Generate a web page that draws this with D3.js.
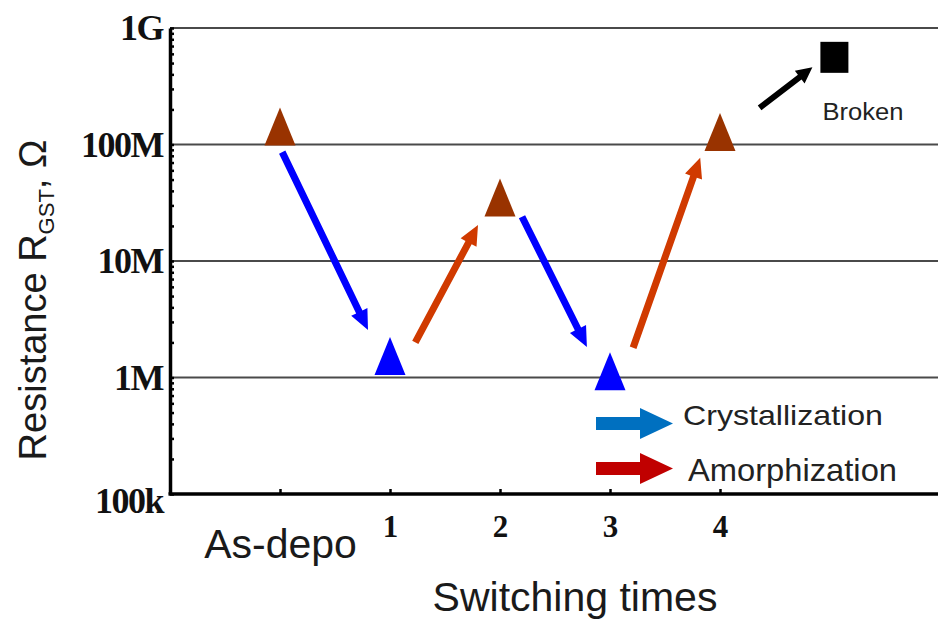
<!DOCTYPE html>
<html><head><meta charset="utf-8">
<script src="https://cdn.jsdelivr.net/npm/d3@7"></script>
<style>body{margin:0;background:#fff}svg{display:block}</style>
</head><body><svg id="c" width="938" height="621"></svg>
<script>
// ---- data ----
const categories = ["As-depo", "1", "2", "3", "4"];
const switchIndex = [0, 1, 2, 3, 4];
const resistance = [1.43e8, 1.53e6, 3.51e7, 1.13e6, 1.28e8];
const phase = ["amorphous", "crystalline", "amorphous", "crystalline", "amorphous"];
const brokenIndex = [5.04];
const brokenResistance = [5.6e8];
const brokenLabel = "Broken";
const yTickValues = [1e5, 1e6, 1e7, 1e8, 1e9];
const yTickLabels = ["100k", "1M", "10M", "100M", "1G"];
// transition arrows (index, resistance) start -> end
const arrowKind = ["cryst", "amorph", "cryst", "amorph", "broken"];
const arrowX0 = [0.02, 1.23, 2.2, 3.21, 4.36];
const arrowR0 = [8.6e7, 2.0e6, 2.4e7, 1.8e6, 2.06e8];
const arrowX1 = [0.8, 1.8, 2.79, 3.82, 4.84];
const arrowR1 = [2.56e6, 2.04e7, 1.83e6, 7.7e7, 4.6e8];
const legendLabels = ["Crystallization", "Amorphization"];
const xTitle = "Switching times";

// ---- setup ----
const svg = d3.select("#c");
const W = 938;
const x = d3.scaleLinear().domain([-1, 6]).range([170, 940]);
const y = d3.scaleLog().domain([1e5, 1e9]).range([494, 28]);
const markerColor = d3.scaleOrdinal().domain(["amorphous", "crystalline"]).range(["#993300", "#0000ff"]);
const arrowColor = d3.scaleOrdinal().domain(["cryst", "amorph", "broken"]).range(["#0000ff", "#d03a00", "#000000"]);

// grid lines
svg.append("g").selectAll("line").data(yTickValues.slice(1)).join("line")
  .attr("x1", x(-1)).attr("x2", W).attr("y1", d => y(d)).attr("y2", d => y(d))
  .attr("stroke", "#4a4a4a").attr("stroke-width", 2.2);

// minor ticks (inside)
const minor = [];
for (let e = 5; e < 9; e++) for (let k = 1; k < 10; k++) minor.push(k * Math.pow(10, e));
minor.push(1e9);
const yMinor = svg.append("g").attr("transform", `translate(${x(-1)},0)`)
  .call(d3.axisRight(y).tickValues(minor).tickSize(4).tickFormat(""));
yMinor.select(".domain").remove();
yMinor.selectAll(".tick line").attr("stroke", "#000").attr("stroke-width", 2.5);

// left axis labels
const yLab = svg.append("g").attr("transform", `translate(${x(-1)},0)`)
  .call(d3.axisLeft(y).tickValues(yTickValues).tickSize(0).tickPadding(7)
    .tickFormat((d, i) => yTickLabels[i]));
yLab.select(".domain").attr("stroke", "#000").attr("stroke-width", 3.5);
yLab.selectAll(".tick text").attr("font-family", "Liberation Serif, serif")
  .attr("font-weight", "bold").attr("font-size", 36).attr("fill", "#111")
  .attr("letter-spacing", -1.5);
yLab.selectAll(".tick").filter(d => d === 1e5).select("text").attr("dy", "0.5em");

// bottom axis
const xAx = svg.append("g").attr("transform", `translate(0,${y(1e5)})`)
  .call(d3.axisTop(x).tickValues(switchIndex).tickSize(5).tickFormat(""));
xAx.select(".domain").remove();
xAx.selectAll(".tick line").attr("stroke", "#000").attr("stroke-width", 2.5);
svg.append("line").attr("x1", x(-1) - 1.5).attr("x2", W).attr("y1", y(1e5)).attr("y2", y(1e5))
  .attr("stroke", "#000").attr("stroke-width", 3.5);

const xLab = svg.append("g").attr("transform", `translate(0,${y(1e5)})`)
  .call(d3.axisBottom(x).tickValues(switchIndex).tickSize(0).tickPadding(0)
    .tickFormat((d, i) => categories[i]));
xLab.select(".domain").remove();
xLab.selectAll(".tick text").attr("dy", null).attr("y", 43)
  .attr("font-family", "Liberation Serif, serif").attr("font-weight", "bold")
  .attr("font-size", 31).attr("fill", "#111");
xLab.selectAll(".tick").filter(d => d === 0).select("text")
  .attr("font-family", "Liberation Sans, Arial, sans-serif").attr("font-weight", "normal")
  .attr("font-size", 41).attr("y", 64).attr("fill", "#1a1a1a");

// titles
svg.append("text").attr("x", 575).attr("y", 611).attr("text-anchor", "middle")
  .attr("font-family", "Liberation Sans, Arial, sans-serif").attr("font-size", 41)
  .attr("fill", "#1a1a1a").text(xTitle);
const yt = svg.append("text").attr("transform", "translate(46,300) rotate(-90)")
  .attr("text-anchor", "middle").attr("font-family", "Liberation Sans, Arial, sans-serif")
  .attr("font-size", 38).attr("fill", "#1a1a1a");
yt.append("tspan").text("Resistance R");
yt.append("tspan").attr("font-size", 22).attr("dy", 8).text("GST");
yt.append("tspan").attr("dy", -8).text(", Ω");

// arrow helper
function arrowPath(x0, y0, x1, y1, shaftW, headL, headW) {
  const dx = x1 - x0, dy = y1 - y0, L = Math.hypot(dx, dy);
  const ux = dx / L, uy = dy / L, nx = -uy, ny = ux;
  const bx = x1 - ux * headL, by = y1 - uy * headL;
  const p = [
    [x0 + nx * shaftW / 2, y0 + ny * shaftW / 2],
    [bx + nx * shaftW / 2, by + ny * shaftW / 2],
    [bx + nx * headW / 2, by + ny * headW / 2],
    [x1, y1],
    [bx - nx * headW / 2, by - ny * headW / 2],
    [bx - nx * shaftW / 2, by - ny * shaftW / 2],
    [x0 - nx * shaftW / 2, y0 - ny * shaftW / 2]
  ];
  return "M" + p.map(q => q.join(",")).join("L") + "Z";
}

// transition arrows
svg.append("g").selectAll("path").data(arrowKind).join("path")
  .attr("d", (k, i) => arrowPath(x(arrowX0[i]), y(arrowR0[i]), x(arrowX1[i]), y(arrowR1[i]),
    k === "broken" ? 6 : 7, k === "broken" ? 16 : 20, k === "broken" ? 16 : 18))
  .attr("fill", k => arrowColor(k));

// markers (triangles)
const tri = (w, h) => `M0,${-h / 2}L${w / 2},${h / 2}L${-w / 2},${h / 2}Z`;
svg.append("g").selectAll("path").data(resistance).join("path")
  .attr("transform", (d, i) => `translate(${x(switchIndex[i])},${y(d)})`)
  .attr("d", tri(31, 38))
  .attr("fill", (d, i) => markerColor(phase[i]));

// broken square
svg.append("g").selectAll("rect").data(brokenResistance).join("rect")
  .attr("x", (d, i) => x(brokenIndex[i]) - 14).attr("y", d => y(d) - 15.5)
  .attr("width", 28).attr("height", 31).attr("fill", "#000");
svg.append("text").attr("x", x(brokenIndex[0]) - 12).attr("y", y(brokenResistance[0]) + 63)
  .attr("font-family", "Liberation Sans, Arial, sans-serif").attr("font-size", 23)
  .attr("textLength", 81).attr("lengthAdjust", "spacingAndGlyphs")
  .attr("fill", "#222").text(brokenLabel);

// legend
const legColors = ["#0070c0", "#c00000"];
const legY = [423.5, 468.5];
const lg = svg.append("g");
legendLabels.forEach((lab, i) => {
  lg.append("path").attr("d", arrowPath(596, legY[i], 673, legY[i], 13, 33, 31)).attr("fill", legColors[i]);
  lg.append("text").attr("x", i === 0 ? 683 : 688).attr("y", i === 0 ? 425 : 481)
    .attr("font-family", "Liberation Sans, Arial, sans-serif")
    .attr("font-size", i === 0 ? 28 : 32).attr("fill", "#222")
    .attr("textLength", i === 0 ? 200 : 209).attr("lengthAdjust", "spacingAndGlyphs")
    .text(lab);
});
</script></body></html>
